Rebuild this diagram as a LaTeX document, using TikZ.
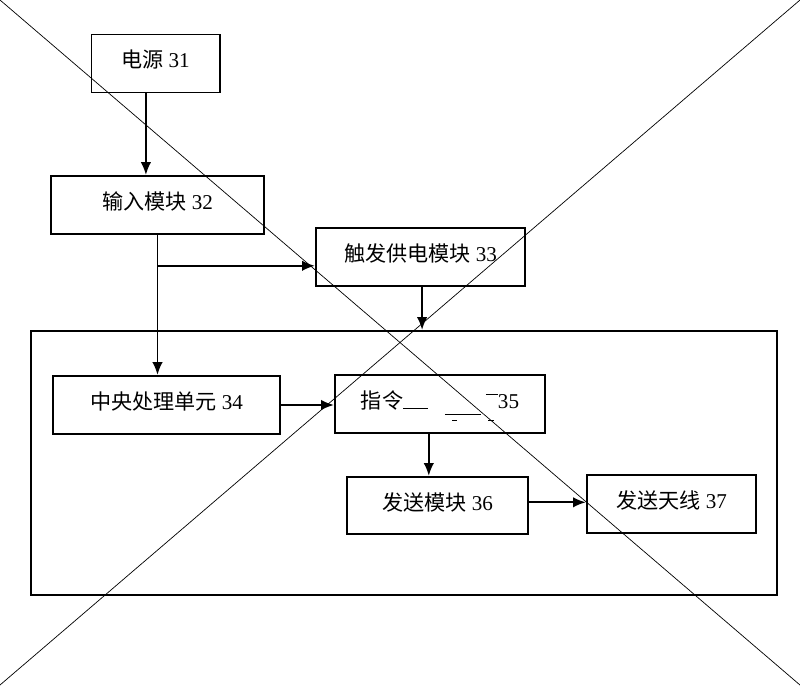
\documentclass[tikz,border=0pt]{standalone}
\usepackage{fontspec}
\setmainfont{Liberation Serif}
\newfontfamily\cjk{Noto Sans CJK SC}
\usetikzlibrary{calc}
\usetikzlibrary{positioning}
\usetikzlibrary{shapes,arrows.meta}
\tikzset{
block/.style={
  draw,line width=1.4pt,rectangle,minimum height=1.45cm,
  text depth=0.22cm,font=\fontsize{15}{18}\selectfont},
link/.style={-{Latex[length=0.32cm,width=0.26cm]},line width=1.4pt},
cross/.style={line width=0.5pt}
}

\begin{document}
\begin{tikzpicture}[x=0.025cm,y=-0.025cm]
\useasboundingbox (0,0) rectangle (800,685);
\coordinate (tl) at (0,0);
\coordinate (tr) at (800,0);
\coordinate (bl) at (0,685);
\coordinate (br) at (800,685);

\node[block,minimum width=3.2cm](src) at (155.5,63.5){{\cjk 电源} 31};
\node[block,minimum width=5.33cm](input) at (157.5,205){{\cjk 输入模块} 32};
\node[block,minimum width=5.23cm](trig) at (420.5,257){{\cjk 触发供电模块} 33};
\node[draw,line width=1.4pt,minimum width=18.65cm,minimum height=6.6cm](board) at (404,463){};
\node[block,minimum width=5.68cm](cpu) at (166.5,405){{\cjk 中央处理单元} 34};
\node[block,minimum width=5.25cm,minimum height=1.43cm](cmd) at (440,404)
  {{\cjk 指令}\rule{0.62cm}{0.7pt}\hspace{1.45cm}\rule[0.62em]{0.3cm}{0.7pt}35};
\node[block,minimum width=4.53cm,minimum height=1.43cm](send) at (437.5,505.5){{\cjk 发送模块} 36};
\node[block,minimum width=4.23cm](ant) at (671.5,504){{\cjk 发送天线} 37};

% broken strokes inside the 35 box
\draw[line width=0.7pt] ([xshift=0.12cm,yshift=-0.25cm]cmd.center) -- ++(0.9cm,0);
\draw[line width=0.7pt] ([xshift=0.3cm,yshift=-0.42cm]cmd.center) -- ++(0.12cm,0);
\draw[line width=0.7pt] ([xshift=1.2cm,yshift=-0.42cm]cmd.center) -- ++(0.15cm,0);

\draw[link] ([xshift=-0.24cm]src.south) -- ([xshift=-0.24cm]src.south |- input.north);
\draw[link] (input.south) -- (input.south |- cpu.north);
\coordinate (split) at ([yshift=-0.22cm]trig.west -| input.south);
\draw[link] (split) -- (split -| trig.west);
\draw[link] ([xshift=0.04cm]trig.south) -- ([xshift=0.04cm]trig.south |- board.north);
\draw[link] (cpu.east) -- (cpu.east -| cmd.west);
\draw[link] ([xshift=-0.28cm]cmd.south) -- ([xshift=-0.28cm]cmd.south |- send.north);
\draw[link] ([yshift=0.08cm]send.east) -- ([yshift=0.08cm]send.east -| ant.west);

%\node[below=4pt of board]{};
\draw[cross] (tl) -- (br);
\draw[cross] (tr) -- (bl);
\end{tikzpicture}
\end{document}
